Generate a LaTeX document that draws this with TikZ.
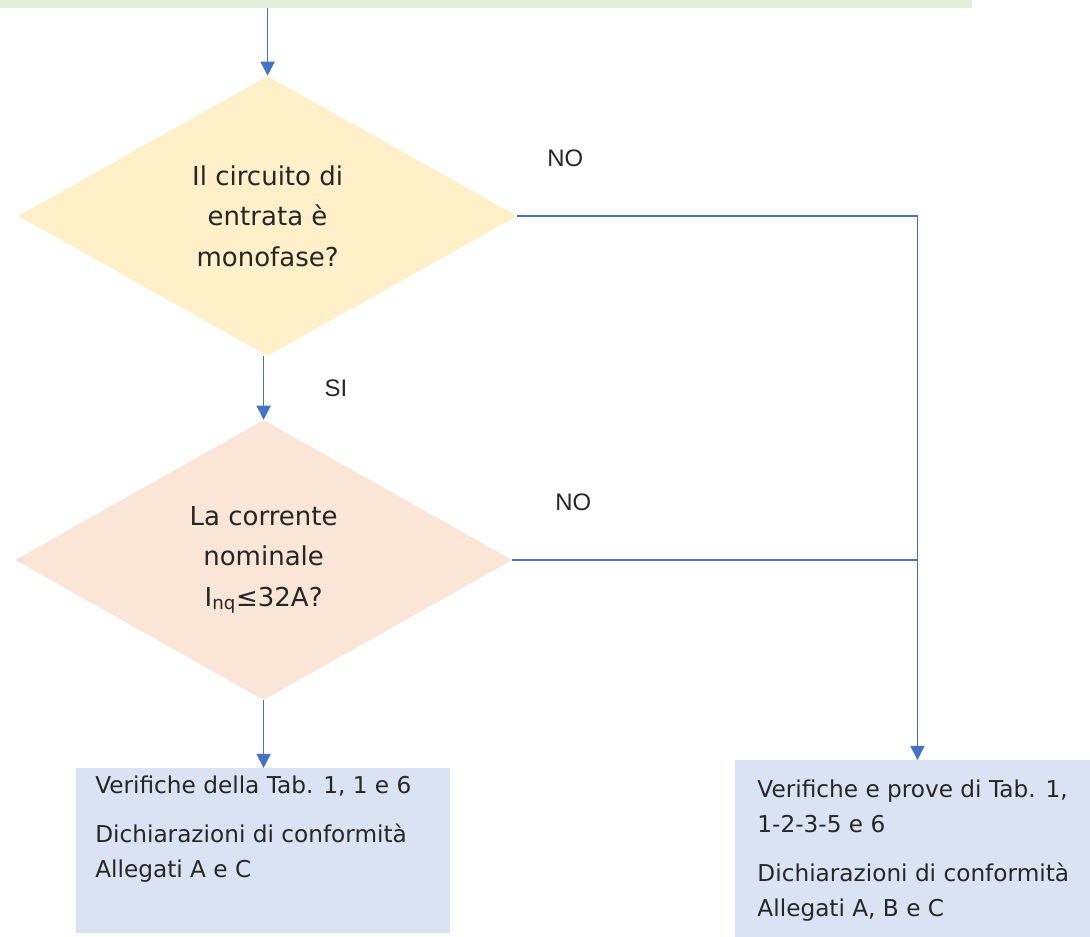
\documentclass[tikz,border=0pt]{standalone}
\usepackage{fontspec}
\setmainfont{DejaVu Sans}
\newfontfamily\labelfont{Liberation Sans}
\usetikzlibrary{shapes.geometric,arrows.meta,calc,positioning}
\definecolor{linkblue}{RGB}{68,114,196}
\definecolor{topgreen}{RGB}{226,239,218}
\definecolor{askyellow}{RGB}{255,240,201}
\definecolor{askpeach}{RGB}{251,229,214}
\definecolor{boxblue}{RGB}{218,227,243}

\begin{document}
\begin{tikzpicture}[>={Triangle[width=10pt,length=10pt]},
  decision/.style={diamond, aspect=1.78, inner sep=0pt, align=center, text=black!85,
    font=\fontsize{18.5}{28.7}\selectfont},
  result/.style={rectangle, fill=boxblue, anchor=north west, text=black!85},
  lbl/.style={text=black!85, font=\labelfont\fontsize{17}{20}\selectfont},
  link/.style={draw=linkblue, line width=1pt}]
\useasboundingbox (0,0) rectangle (27.25,-23.4);

% previous step (green bar, cut at the top edge)
\node[fill=topgreen, minimum width=24.3cm, minimum height=0.4cm, inner sep=0pt] (prev) at (12.15,0) {};

% decisions
\node[decision, fill=askyellow, minimum width=12.48cm, minimum height=7cm] (mono) at (6.69,-5.4)
  {Il circuito di\\entrata è\\monofase?};
\node[decision, fill=askpeach, minimum width=12.43cm, minimum height=7cm] (inom) at (6.59,-14)
  {La corrente\\nominale\\I\textsubscript{nq}≤32A?};

% results
\node[result, inner xsep=0.475cm, inner ysep=0.18cm] (small) at (1.9,-19.2)
  {\parbox[c][3.77cm][t]{8.4cm}{\fontsize{16.5}{24.8}\selectfont
   Verifiche della Tab. 1, 1 e 6\\[10.2pt]
   Dichiarazioni di conformità\\
   Allegati A e C}};
\node[result, inner xsep=0.55cm, inner ysep=0.5cm] (large) at (18.38,-19.0)
  {\parbox[c][3.45cm][t]{8.0cm}{\fontsize{16.5}{24.8}\selectfont
   Verifiche e prove di Tab. 1,\\
   1-2-3-5 e 6\\[10.2pt]
   Dichiarazioni di conformità\\
   Allegati A, B e C}};

% connectors
\draw[link,->] (prev.south -| mono.north) -- (mono.north);
\draw[link,->] (mono.south -| inom.north) -- (inom.north);
\draw[link,->] (inom.south) -- (inom.south |- small.north);
\draw[link,->] (mono.east) -| (large.north);
\draw[link] (inom.east) -- (inom.east -| large.north);

% answers
\node[lbl] (no1) at (14.13,-3.95) {NO};
\node[lbl] (no2) at (14.33,-12.55) {NO};
\node[lbl] (si) at (8.4,-9.7) {SI};
\end{tikzpicture}
\end{document}
